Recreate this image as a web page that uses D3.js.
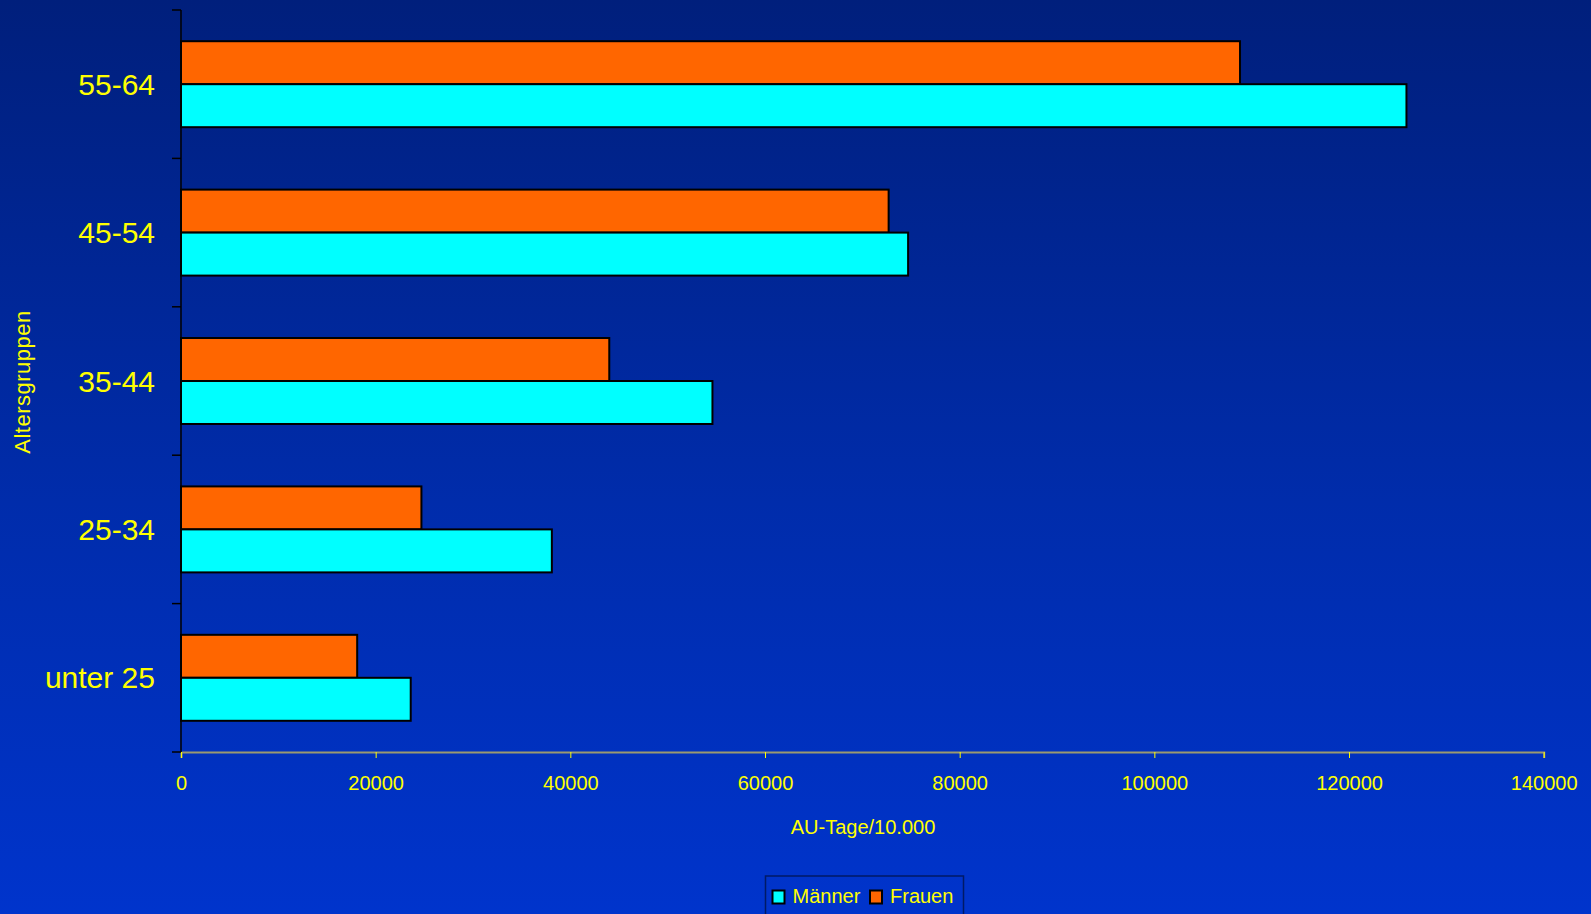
<!DOCTYPE html>
<html>
<head>
<meta charset="utf-8">
<script src="https://cdn.jsdelivr.net/npm/d3@7"></script>
<style>
  html, body { margin: 0; padding: 0; overflow: hidden; }
  svg { display: block; font-family: "Liberation Sans", Arial, sans-serif; }
</style>
</head>
<body>
<script>
const categories = ["55-64", "45-54", "35-44", "25-34", "unter 25"];
const seriesNames = ["Frauen", "Männer"];
const frauen = [108800, 72700, 44000, 24700, 18100];
const maenner = [125900, 74700, 54600, 38100, 23600];
const xTicks = [0, 20000, 40000, 60000, 80000, 100000, 120000, 140000];
const xTitle = "AU-Tage/10.000";
const yTitle = "Altersgruppen";
const legendOrder = ["Männer", "Frauen"];

(function () {
const W = 1591, H = 914;
const colors = { "Männer": "#00ffff", "Frauen": "#ff6600" };
const values = { "Frauen": frauen, "Männer": maenner };
const yellow = "#ffff00";

const svg = d3.select("body").append("svg").attr("width", W).attr("height", H);
const defs = svg.append("defs");
const grad = defs.append("linearGradient").attr("id", "bg").attr("x1", 0).attr("y1", 0).attr("x2", 0).attr("y2", 1);
grad.append("stop").attr("offset", "0%").attr("stop-color", "#001f7c");
grad.append("stop").attr("offset", "55%").attr("stop-color", "#002cab");
grad.append("stop").attr("offset", "100%").attr("stop-color", "#0034cc");
svg.append("rect").attr("width", W).attr("height", H).attr("fill", "url(#bg)");

const pLeft = 181, pRight = 1543.7, pTop = 10, pBottom = 752;
const x = d3.scaleLinear().domain([0, 140000]).range([pLeft, pRight]);
const y0 = d3.scaleBand().domain(categories).range([pTop, pBottom]).padding(0);
const y1 = d3.scaleBand().domain(seriesNames).range([0, y0.bandwidth()]).paddingInner(0).paddingOuter(0.726);

// bars
const g = svg.append("g");
categories.forEach((c, i) => {
  seriesNames.forEach(s => {
    g.append("rect")
      .attr("x", x(0))
      .attr("y", y0(c) + y1(s))
      .attr("width", x(values[s][i]) - x(0))
      .attr("height", y1.bandwidth())
      .attr("fill", colors[s])
      .attr("stroke", "#000")
      .attr("stroke-width", 2);
  });
});

// x axis
const xAxis = d3.axisBottom(x).tickValues(xTicks).tickSize(6).tickPadding(18).tickFormat(d3.format("d"));
const xg = svg.append("g").attr("transform", `translate(0,${pBottom})`).call(xAxis);
xg.select(".domain").attr("stroke", "#9a9a70").attr("stroke-width", 2);
xg.selectAll(".tick line").attr("stroke", yellow).attr("stroke-width", 1);
xg.selectAll(".tick text").attr("fill", yellow).attr("font-size", 20)
  .attr("font-family", "Liberation Sans, Arial, sans-serif");

// y axis
const yLine = svg.append("g");
yLine.append("line").attr("x1", pLeft).attr("x2", pLeft).attr("y1", pTop).attr("y2", pBottom)
  .attr("stroke", "#000").attr("stroke-width", 1.5);
const boundaries = categories.map(c => y0(c)).concat([pBottom]);
yLine.selectAll("line.tk").data(boundaries).enter().append("line").attr("class", "tk")
  .attr("x1", pLeft - 9).attr("x2", pLeft).attr("y1", d => d).attr("y2", d => d)
  .attr("stroke", "#000").attr("stroke-width", 1.5);
yLine.selectAll("text").data(categories).enter().append("text")
  .attr("x", 155).attr("y", d => y0(d) + y0.bandwidth() / 2)
  .attr("dy", "0.35em").attr("text-anchor", "end")
  .attr("fill", yellow).attr("font-size", 30).text(d => d);

// axis titles
svg.append("text").attr("x", 863).attr("y", 834).attr("text-anchor", "middle")
  .attr("fill", yellow).attr("font-size", 20).text(xTitle);
svg.append("text").attr("transform", "translate(30,382) rotate(-90)").attr("text-anchor", "middle")
  .attr("fill", yellow).attr("font-size", 22).attr("letter-spacing", 0.5).text(yTitle);

// legend
const lg = svg.append("g");
lg.append("rect").attr("x", 765.5).attr("y", 876).attr("width", 198).attr("height", 60)
  .attr("fill", "none").attr("stroke", "#001a66").attr("stroke-width", 1.5);
const legendPos = { "Männer": 772.5, "Frauen": 870 };
legendOrder.forEach(s => {
  const lx = legendPos[s];
  lg.append("rect").attr("x", lx).attr("y", 890.5).attr("width", 12).attr("height", 13)
    .attr("fill", colors[s]).attr("stroke", "#000").attr("stroke-width", 2);
  lg.append("text").attr("x", lx + 20).attr("y", 903).attr("fill", yellow)
    .attr("font-size", 20).text(s);
});
})();
</script>
</body>
</html>
